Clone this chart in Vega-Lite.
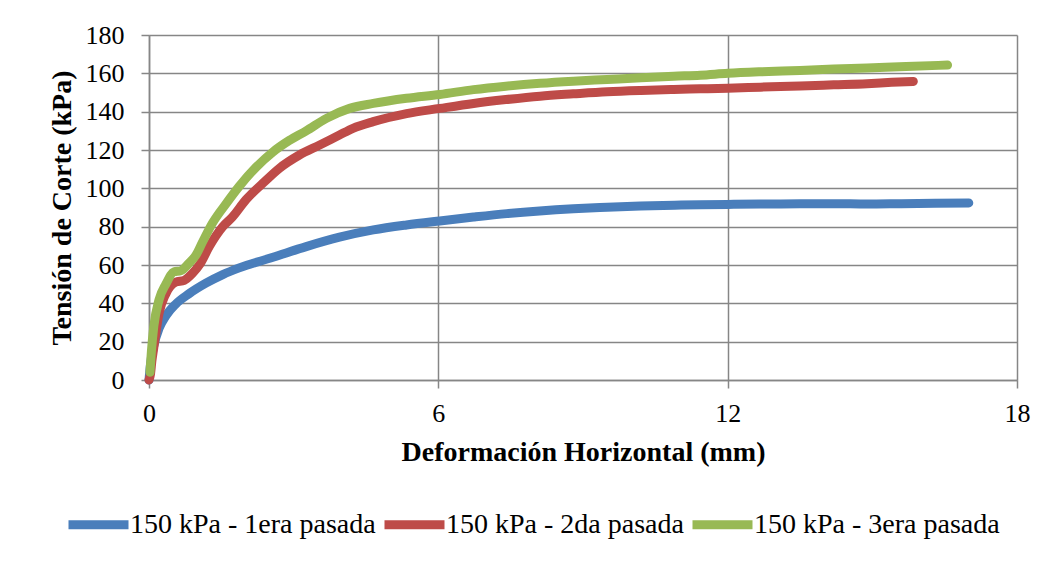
{
  "$schema": "https://vega.github.io/schema/vega-lite/v6.json",
  "width": 868,
  "height": 345,
  "autosize": {"type": "none"},
  "padding": {"left": 149, "top": 35, "right": 33, "bottom": 181},
  "background": "white",
  "datasets": {
    "d1": [
      {"s": "150 kPa - 1era pasada", "x": 0, "y": 0},
      {"s": "150 kPa - 1era pasada", "x": 0.03, "y": 8},
      {"s": "150 kPa - 1era pasada", "x": 0.1, "y": 18},
      {"s": "150 kPa - 1era pasada", "x": 0.21, "y": 27},
      {"s": "150 kPa - 1era pasada", "x": 0.35, "y": 33.5},
      {"s": "150 kPa - 1era pasada", "x": 0.55, "y": 39.5},
      {"s": "150 kPa - 1era pasada", "x": 0.83, "y": 45},
      {"s": "150 kPa - 1era pasada", "x": 1.18, "y": 50.5},
      {"s": "150 kPa - 1era pasada", "x": 1.53, "y": 55},
      {"s": "150 kPa - 1era pasada", "x": 1.87, "y": 58.5},
      {"s": "150 kPa - 1era pasada", "x": 2.57, "y": 64},
      {"s": "150 kPa - 1era pasada", "x": 3.26, "y": 69.6},
      {"s": "150 kPa - 1era pasada", "x": 3.95, "y": 74.5},
      {"s": "150 kPa - 1era pasada", "x": 4.65, "y": 78.3},
      {"s": "150 kPa - 1era pasada", "x": 5.34, "y": 80.9},
      {"s": "150 kPa - 1era pasada", "x": 6.03, "y": 83},
      {"s": "150 kPa - 1era pasada", "x": 6.73, "y": 85},
      {"s": "150 kPa - 1era pasada", "x": 7.42, "y": 86.8},
      {"s": "150 kPa - 1era pasada", "x": 8.1, "y": 88.2},
      {"s": "150 kPa - 1era pasada", "x": 8.8, "y": 89.3},
      {"s": "150 kPa - 1era pasada", "x": 9.5, "y": 90.1},
      {"s": "150 kPa - 1era pasada", "x": 10.19, "y": 90.8},
      {"s": "150 kPa - 1era pasada", "x": 10.9, "y": 91.2},
      {"s": "150 kPa - 1era pasada", "x": 11.43, "y": 91.4},
      {"s": "150 kPa - 1era pasada", "x": 12, "y": 91.6},
      {"s": "150 kPa - 1era pasada", "x": 12.68, "y": 91.8},
      {"s": "150 kPa - 1era pasada", "x": 13.5, "y": 92},
      {"s": "150 kPa - 1era pasada", "x": 14.2, "y": 92},
      {"s": "150 kPa - 1era pasada", "x": 14.89, "y": 91.8},
      {"s": "150 kPa - 1era pasada", "x": 15.6, "y": 92},
      {"s": "150 kPa - 1era pasada", "x": 16.3, "y": 92.2},
      {"s": "150 kPa - 1era pasada", "x": 17.0, "y": 92.4},
      {"s": "150 kPa - 2da pasada", "x": 0, "y": 0},
      {"s": "150 kPa - 2da pasada", "x": 0.03, "y": 3},
      {"s": "150 kPa - 2da pasada", "x": 0.06, "y": 10},
      {"s": "150 kPa - 2da pasada", "x": 0.1, "y": 17},
      {"s": "150 kPa - 2da pasada", "x": 0.21, "y": 35},
      {"s": "150 kPa - 2da pasada", "x": 0.35, "y": 45},
      {"s": "150 kPa - 2da pasada", "x": 0.55, "y": 51},
      {"s": "150 kPa - 2da pasada", "x": 0.73, "y": 52},
      {"s": "150 kPa - 2da pasada", "x": 0.9, "y": 55.6},
      {"s": "150 kPa - 2da pasada", "x": 1.07, "y": 61},
      {"s": "150 kPa - 2da pasada", "x": 1.25, "y": 69.6},
      {"s": "150 kPa - 2da pasada", "x": 1.53, "y": 80},
      {"s": "150 kPa - 2da pasada", "x": 1.73, "y": 85},
      {"s": "150 kPa - 2da pasada", "x": 2.01, "y": 94},
      {"s": "150 kPa - 2da pasada", "x": 2.36, "y": 102.6},
      {"s": "150 kPa - 2da pasada", "x": 2.7, "y": 110.4},
      {"s": "150 kPa - 2da pasada", "x": 3.12, "y": 117.4},
      {"s": "150 kPa - 2da pasada", "x": 3.54, "y": 122.6},
      {"s": "150 kPa - 2da pasada", "x": 3.95, "y": 127.8},
      {"s": "150 kPa - 2da pasada", "x": 4.23, "y": 131.3},
      {"s": "150 kPa - 2da pasada", "x": 4.65, "y": 134.8},
      {"s": "150 kPa - 2da pasada", "x": 5.34, "y": 139},
      {"s": "150 kPa - 2da pasada", "x": 6.03, "y": 141.7},
      {"s": "150 kPa - 2da pasada", "x": 6.73, "y": 144.3},
      {"s": "150 kPa - 2da pasada", "x": 7.4, "y": 146.3},
      {"s": "150 kPa - 2da pasada", "x": 8.11, "y": 148.1},
      {"s": "150 kPa - 2da pasada", "x": 8.8, "y": 149.3},
      {"s": "150 kPa - 2da pasada", "x": 9.5, "y": 150.4},
      {"s": "150 kPa - 2da pasada", "x": 10.2, "y": 151.1},
      {"s": "150 kPa - 2da pasada", "x": 10.88, "y": 151.6},
      {"s": "150 kPa - 2da pasada", "x": 11.43, "y": 151.9},
      {"s": "150 kPa - 2da pasada", "x": 12, "y": 152.2},
      {"s": "150 kPa - 2da pasada", "x": 12.68, "y": 152.8},
      {"s": "150 kPa - 2da pasada", "x": 13.5, "y": 153.4},
      {"s": "150 kPa - 2da pasada", "x": 14.2, "y": 154},
      {"s": "150 kPa - 2da pasada", "x": 14.89, "y": 154.6},
      {"s": "150 kPa - 2da pasada", "x": 15.4, "y": 155.3},
      {"s": "150 kPa - 2da pasada", "x": 15.85, "y": 155.8},
      {"s": "150 kPa - 3era pasada", "x": 0.02, "y": 4},
      {"s": "150 kPa - 3era pasada", "x": 0.05, "y": 15},
      {"s": "150 kPa - 3era pasada", "x": 0.1, "y": 28},
      {"s": "150 kPa - 3era pasada", "x": 0.21, "y": 42},
      {"s": "150 kPa - 3era pasada", "x": 0.35, "y": 50},
      {"s": "150 kPa - 3era pasada", "x": 0.52, "y": 56.5},
      {"s": "150 kPa - 3era pasada", "x": 0.66, "y": 57},
      {"s": "150 kPa - 3era pasada", "x": 0.83, "y": 61},
      {"s": "150 kPa - 3era pasada", "x": 0.97, "y": 65},
      {"s": "150 kPa - 3era pasada", "x": 1.11, "y": 72},
      {"s": "150 kPa - 3era pasada", "x": 1.32, "y": 82},
      {"s": "150 kPa - 3era pasada", "x": 1.6, "y": 92},
      {"s": "150 kPa - 3era pasada", "x": 1.87, "y": 101},
      {"s": "150 kPa - 3era pasada", "x": 2.22, "y": 111},
      {"s": "150 kPa - 3era pasada", "x": 2.57, "y": 119},
      {"s": "150 kPa - 3era pasada", "x": 2.91, "y": 125},
      {"s": "150 kPa - 3era pasada", "x": 3.26, "y": 130},
      {"s": "150 kPa - 3era pasada", "x": 3.68, "y": 136.5},
      {"s": "150 kPa - 3era pasada", "x": 4.16, "y": 141.7},
      {"s": "150 kPa - 3era pasada", "x": 4.65, "y": 144.3},
      {"s": "150 kPa - 3era pasada", "x": 5.34, "y": 147},
      {"s": "150 kPa - 3era pasada", "x": 6.03, "y": 149},
      {"s": "150 kPa - 3era pasada", "x": 6.73, "y": 151.5},
      {"s": "150 kPa - 3era pasada", "x": 7.4, "y": 153.3},
      {"s": "150 kPa - 3era pasada", "x": 8.11, "y": 154.8},
      {"s": "150 kPa - 3era pasada", "x": 8.8, "y": 155.9},
      {"s": "150 kPa - 3era pasada", "x": 9.5, "y": 156.8},
      {"s": "150 kPa - 3era pasada", "x": 10.2, "y": 157.7},
      {"s": "150 kPa - 3era pasada", "x": 10.88, "y": 158.5},
      {"s": "150 kPa - 3era pasada", "x": 11.43, "y": 159},
      {"s": "150 kPa - 3era pasada", "x": 12, "y": 160},
      {"s": "150 kPa - 3era pasada", "x": 12.68, "y": 160.8},
      {"s": "150 kPa - 3era pasada", "x": 13.5, "y": 161.5},
      {"s": "150 kPa - 3era pasada", "x": 14.2, "y": 162.2},
      {"s": "150 kPa - 3era pasada", "x": 14.89, "y": 162.8},
      {"s": "150 kPa - 3era pasada", "x": 15.7, "y": 163.6},
      {"s": "150 kPa - 3era pasada", "x": 16.56, "y": 164.3}
    ]
  },
  "data": {"name": "d1"},
  "mark": {"type": "line", "strokeWidth": 9, "strokeCap": "round", "strokeJoin": "round", "interpolate": "monotone", "clip": false},
  "encoding": {
    "x": {
      "field": "x", "type": "quantitative",
      "scale": {"domain": [0, 18], "nice": false, "zero": false},
      "axis": {"values": [0, 6, 12, 18], "title": "Deformación Horizontal (mm)", "labelPadding": 12, "titlePadding": 12}
    },
    "y": {
      "field": "y", "type": "quantitative",
      "scale": {"domain": [0, 180], "nice": false},
      "axis": {"values": [0, 20, 40, 60, 80, 100, 120, 140, 160, 180], "title": "Tensión de Corte (kPa)", "labelPadding": 17, "titlePadding": 9}
    },
    "color": {
      "field": "s", "type": "nominal",
      "scale": {
        "domain": ["150 kPa - 1era pasada", "150 kPa - 2da pasada", "150 kPa - 3era pasada"],
        "range": ["#4A7EBB", "#BE4B48", "#98B954"]
      },
      "legend": {
        "title": null, "orient": "none", "direction": "horizontal",
        "legendX": -85, "legendY": 455,
        "symbolType": "stroke", "symbolSize": 3600, "symbolStrokeWidth": 9,
        "labelFont": "Liberation Serif", "labelFontSize": 28, "labelColor": "black",
        "labelOffset": -3, "columnPadding": -10, "padding": 0, "labelLimit": 400
      }
    },
    "order": {"field": "x", "type": "quantitative"}
  },
  "config": {
    "view": {"stroke": null},
    "axis": {
      "domainColor": "#868686", "domainWidth": 1.5,
      "gridColor": "#868686", "gridWidth": 1.5, "gridOpacity": 1,
      "tickColor": "#868686", "tickWidth": 1.5, "tickSize": 8,
      "labelFont": "Liberation Serif", "labelFontSize": 26, "labelColor": "black",
      "titleFont": "Liberation Serif", "titleFontSize": 28, "titleFontWeight": "bold", "titleColor": "black",
      "labelFlush": false, "labelOverlap": false
    }
  }
}
